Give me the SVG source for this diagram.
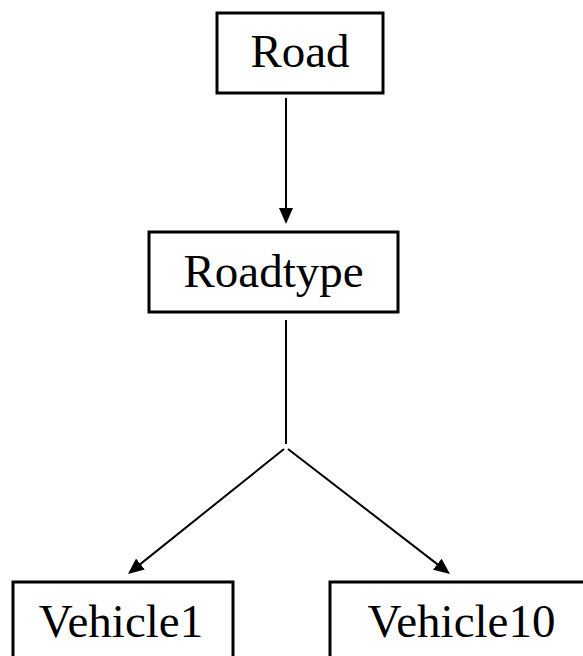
<svg xmlns="http://www.w3.org/2000/svg" width="583" height="656" viewBox="0 0 583 656">
<style>
.box{fill:#fff;stroke:#000;stroke-width:3}
.lbl{font-family:"Liberation Serif","Times New Roman",serif;font-size:47px;fill:#000;text-anchor:middle}
.conn{stroke:#000;stroke-width:2;fill:none}
</style>
<defs>
<marker id="ah" viewBox="0 0 16 14" refX="13" refY="7" markerWidth="16" markerHeight="14" markerUnits="userSpaceOnUse" orient="auto">
<path d="M0,0 L16,7 L0,14 z" fill="#000"/>
</marker>
</defs>
<rect width="583" height="656" fill="#fff"/>
<g id="connectors">
<line class="conn" x1="286" y1="98" x2="286" y2="221" marker-end="url(#ah)"/>
<line class="conn" x1="286" y1="320" x2="286" y2="444"/>
<line class="conn" x1="284" y1="449" x2="130.3" y2="572.1" marker-end="url(#ah)"/>
<line class="conn" x1="288" y1="449" x2="447.6" y2="572.1" marker-end="url(#ah)"/>
</g>
<g id="road">
<rect class="box" x="217" y="13" width="166" height="80"/>
<text class="lbl" x="300" y="67">Road</text>
</g>
<g id="roadtype">
<rect class="box" x="149" y="232" width="249" height="80"/>
<text class="lbl" x="273.5" y="287">Roadtype</text>
</g>
<g id="vehicle1">
<rect class="box" x="13" y="582" width="220" height="100"/>
<text class="lbl" x="121" y="637">Vehicle1</text>
</g>
<g id="vehicle10">
<rect class="box" x="330" y="582" width="270" height="100"/>
<text class="lbl" x="461.5" y="637">Vehicle10</text>
</g>
</svg>
